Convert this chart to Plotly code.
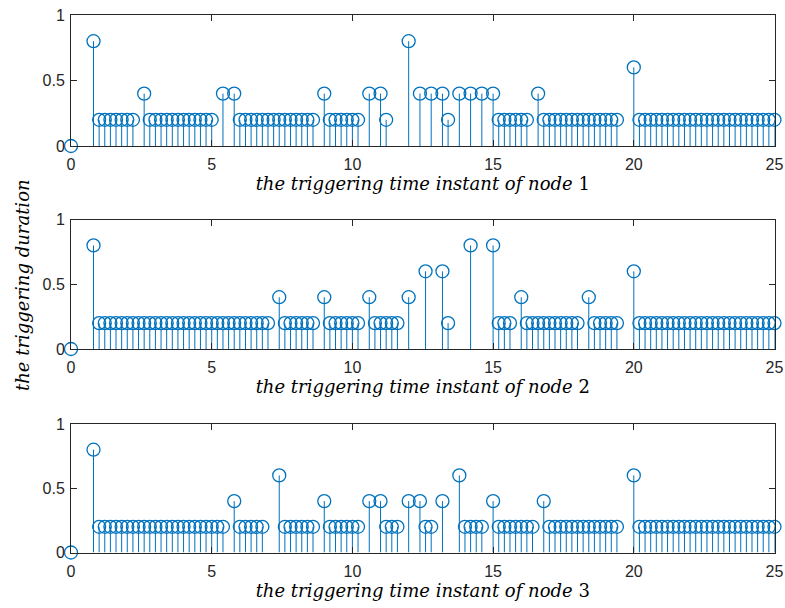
import plotly.graph_objects as go

# Node 1
t1 = [0, 0.8, 1.0, 1.2, 1.4, 1.6, 1.8, 2.0, 2.2, 2.6,
      2.8, 3.0, 3.2, 3.4, 3.6, 3.8, 4.0, 4.2, 4.4, 4.6, 4.8, 5.0, 5.4, 5.8,
      6.0, 6.2, 6.4, 6.6, 6.8, 7.0, 7.2, 7.4, 7.6, 7.8, 8.0, 8.2, 8.4, 8.6, 9.0,
      9.2, 9.4, 9.6, 9.8, 10.0, 10.2, 10.6, 11.0, 11.2, 12.0, 12.4, 12.8, 13.2, 13.4,
      13.8, 14.2, 14.6, 15.0, 15.2, 15.4, 15.6, 15.8, 16.0, 16.2, 16.6,
      16.8, 17.0, 17.2, 17.4, 17.6, 17.8, 18.0, 18.2, 18.4, 18.6, 18.8, 19.0, 19.2, 19.4, 20.0,
      20.2, 20.4, 20.6, 20.8, 21.0, 21.2, 21.4, 21.6, 21.8, 22.0, 22.2, 22.4, 22.6, 22.8,
      23.0, 23.2, 23.4, 23.6, 23.8, 24.0, 24.2, 24.4, 24.6, 24.8, 25.0]
d1 = [0, 0.8, 0.2, 0.2, 0.2, 0.2, 0.2, 0.2, 0.2, 0.4,
      0.2, 0.2, 0.2, 0.2, 0.2, 0.2, 0.2, 0.2, 0.2, 0.2, 0.2, 0.2, 0.4, 0.4,
      0.2, 0.2, 0.2, 0.2, 0.2, 0.2, 0.2, 0.2, 0.2, 0.2, 0.2, 0.2, 0.2, 0.2, 0.4,
      0.2, 0.2, 0.2, 0.2, 0.2, 0.2, 0.4, 0.4, 0.2, 0.8, 0.4, 0.4, 0.4, 0.2,
      0.4, 0.4, 0.4, 0.4, 0.2, 0.2, 0.2, 0.2, 0.2, 0.2, 0.4,
      0.2, 0.2, 0.2, 0.2, 0.2, 0.2, 0.2, 0.2, 0.2, 0.2, 0.2, 0.2, 0.2, 0.2, 0.6,
      0.2, 0.2, 0.2, 0.2, 0.2, 0.2, 0.2, 0.2, 0.2, 0.2, 0.2, 0.2, 0.2, 0.2,
      0.2, 0.2, 0.2, 0.2, 0.2, 0.2, 0.2, 0.2, 0.2, 0.2, 0.2]

# Node 2
t2 = [0, 0.8, 1.0, 1.2, 1.4, 1.6, 1.8, 2.0, 2.2, 2.4, 2.6, 2.8, 3.0, 3.2, 3.4, 3.6,
      3.8, 4.0, 4.2, 4.4, 4.6, 4.8, 5.0, 5.2, 5.4, 5.6, 5.8, 6.0, 6.2, 6.4, 6.6, 6.8, 7.0,
      7.4, 7.6, 7.8, 8.0, 8.2, 8.4, 8.6, 9.0, 9.2, 9.4, 9.6, 9.8, 10.0, 10.2, 10.6,
      10.8, 11.0, 11.2, 11.4, 11.6, 12.0, 12.6, 13.2, 13.4, 14.2, 15.0, 15.2, 15.4, 15.6, 16.0,
      16.2, 16.4, 16.6, 16.8, 17.0, 17.2, 17.4, 17.6, 17.8, 18.0, 18.4,
      18.6, 18.8, 19.0, 19.2, 19.4, 20.0,
      20.2, 20.4, 20.6, 20.8, 21.0, 21.2, 21.4, 21.6, 21.8, 22.0, 22.2, 22.4, 22.6, 22.8,
      23.0, 23.2, 23.4, 23.6, 23.8, 24.0, 24.2, 24.4, 24.6, 24.8, 25.0]
d2 = [0, 0.8, 0.2, 0.2, 0.2, 0.2, 0.2, 0.2, 0.2, 0.2, 0.2, 0.2, 0.2, 0.2, 0.2, 0.2,
      0.2, 0.2, 0.2, 0.2, 0.2, 0.2, 0.2, 0.2, 0.2, 0.2, 0.2, 0.2, 0.2, 0.2, 0.2, 0.2, 0.2,
      0.4, 0.2, 0.2, 0.2, 0.2, 0.2, 0.2, 0.4, 0.2, 0.2, 0.2, 0.2, 0.2, 0.2, 0.4,
      0.2, 0.2, 0.2, 0.2, 0.2, 0.4, 0.6, 0.6, 0.2, 0.8, 0.8, 0.2, 0.2, 0.2, 0.4,
      0.2, 0.2, 0.2, 0.2, 0.2, 0.2, 0.2, 0.2, 0.2, 0.2, 0.4,
      0.2, 0.2, 0.2, 0.2, 0.2, 0.6,
      0.2, 0.2, 0.2, 0.2, 0.2, 0.2, 0.2, 0.2, 0.2, 0.2, 0.2, 0.2, 0.2, 0.2,
      0.2, 0.2, 0.2, 0.2, 0.2, 0.2, 0.2, 0.2, 0.2, 0.2, 0.2]

# Node 3
t3 = [0, 0.8, 1.0, 1.2, 1.4, 1.6, 1.8, 2.0, 2.2, 2.4, 2.6, 2.8, 3.0, 3.2, 3.4, 3.6,
      3.8, 4.0, 4.2, 4.4, 4.6, 4.8, 5.0, 5.2, 5.4, 5.8, 6.0, 6.2, 6.4, 6.6, 6.8, 7.4,
      7.6, 7.8, 8.0, 8.2, 8.4, 8.6, 9.0, 9.2, 9.4, 9.6, 9.8, 10.0, 10.2, 10.6, 11.0,
      11.2, 11.4, 11.6, 12.0, 12.4, 12.6, 12.8, 13.2, 13.8, 14.0, 14.2, 14.4, 14.6, 15.0,
      15.2, 15.4, 15.6, 15.8, 16.0, 16.2, 16.4, 16.8,
      17.0, 17.2, 17.4, 17.6, 17.8, 18.0, 18.2, 18.4, 18.6, 18.8, 19.0, 19.2, 19.4, 20.0,
      20.2, 20.4, 20.6, 20.8, 21.0, 21.2, 21.4, 21.6, 21.8, 22.0, 22.2, 22.4, 22.6, 22.8,
      23.0, 23.2, 23.4, 23.6, 23.8, 24.0, 24.2, 24.4, 24.6, 24.8, 25.0]
d3 = [0, 0.8, 0.2, 0.2, 0.2, 0.2, 0.2, 0.2, 0.2, 0.2, 0.2, 0.2, 0.2, 0.2, 0.2, 0.2,
      0.2, 0.2, 0.2, 0.2, 0.2, 0.2, 0.2, 0.2, 0.2, 0.4, 0.2, 0.2, 0.2, 0.2, 0.2, 0.6,
      0.2, 0.2, 0.2, 0.2, 0.2, 0.2, 0.4, 0.2, 0.2, 0.2, 0.2, 0.2, 0.2, 0.4, 0.4,
      0.2, 0.2, 0.2, 0.4, 0.4, 0.2, 0.2, 0.4, 0.6, 0.2, 0.2, 0.2, 0.2, 0.4,
      0.2, 0.2, 0.2, 0.2, 0.2, 0.2, 0.2, 0.4,
      0.2, 0.2, 0.2, 0.2, 0.2, 0.2, 0.2, 0.2, 0.2, 0.2, 0.2, 0.2, 0.2, 0.6,
      0.2, 0.2, 0.2, 0.2, 0.2, 0.2, 0.2, 0.2, 0.2, 0.2, 0.2, 0.2, 0.2, 0.2,
      0.2, 0.2, 0.2, 0.2, 0.2, 0.2, 0.2, 0.2, 0.2, 0.2, 0.2]

x_ticks = [0, 5, 10, 15, 20, 25]
y_ticks = [0, 0.5, 1]
y_tick_labels = ["0", "0.5", "1"]
x_titles = ["<i>the triggering time instant of node</i> 1",
            "<i>the triggering time instant of node</i> 2",
            "<i>the triggering time instant of node</i> 3"]
y_title = "<i>the triggering duration</i>"

W, H = 785, 608
BLUE = "#0072BD"
AX = "#262626"

x_dom = [71 / W, 774.5 / W]
y_doms = [[1 - 146 / H, 1 - 15 / H],
          [1 - 349 / H, 1 - 219.5 / H],
          [1 - 552.5 / H, 1 - 424 / H]]

fig = go.Figure()
series = [(t1, d1), (t2, d2), (t3, d3)]
for i, (t, d) in enumerate(series):
    xa = "x" if i == 0 else f"x{i+1}"
    ya = "y" if i == 0 else f"y{i+1}"
    sx, sy = [], []
    for xv, yv in zip(t, d):
        sx += [xv, xv, None]
        sy += [0, yv, None]
    fig.add_trace(go.Scatter(x=sx, y=sy, mode="lines", line=dict(color=BLUE, width=1),
                             xaxis=xa, yaxis=ya, showlegend=False, hoverinfo="skip",
                             cliponaxis=False))
    fig.add_trace(go.Scatter(x=t, y=d, mode="markers",
                             marker=dict(symbol="circle-open", size=13, color=BLUE,
                                         line=dict(width=1.3, color=BLUE)),
                             xaxis=xa, yaxis=ya, showlegend=False, cliponaxis=False))

layout = dict(width=W, height=H, margin=dict(l=0, r=0, t=0, b=0),
              template="none",
              paper_bgcolor="white", plot_bgcolor="white",
              font=dict(family="Liberation Sans, Arial", size=16, color=AX))
for i in range(3):
    xk = "xaxis" if i == 0 else f"xaxis{i+1}"
    yk = "yaxis" if i == 0 else f"yaxis{i+1}"
    layout[xk] = dict(domain=x_dom, range=[0, 25], tickvals=x_ticks,
                      ticks="inside", ticklen=6, tickcolor=AX, tickwidth=1,
                      showline=True, linecolor=AX, linewidth=1, mirror="ticks",
                      showgrid=False, zeroline=False, automargin=False,
                      ticklabelstandoff=4,
                      anchor="y" if i == 0 else f"y{i+1}",
                      tickfont=dict(size=16, color=AX),
                      title=dict(text=x_titles[i], standoff=5,
                                 font=dict(family="DejaVu Serif", size=18, color="black")))
    layout[yk] = dict(domain=y_doms[i], range=[0, 1], tickvals=y_ticks, ticktext=y_tick_labels,
                      ticks="inside", ticklen=6, tickcolor=AX, tickwidth=1,
                      showline=True, linecolor=AX, linewidth=1, mirror="ticks",
                      showgrid=False, zeroline=False, automargin=False,
                      ticklabelstandoff=2,
                      anchor="x" if i == 0 else f"x{i+1}",
                      tickfont=dict(size=16, color=AX))
fig.update_layout(**layout)

fig.add_annotation(text=y_title, xref="paper", yref="paper", x=22 / W, y=1 - 285 / H,
                   showarrow=False, textangle=-90, xanchor="center", yanchor="middle",
                   font=dict(family="DejaVu Serif", size=18, color="black"))

fig.write_html("out.html")
